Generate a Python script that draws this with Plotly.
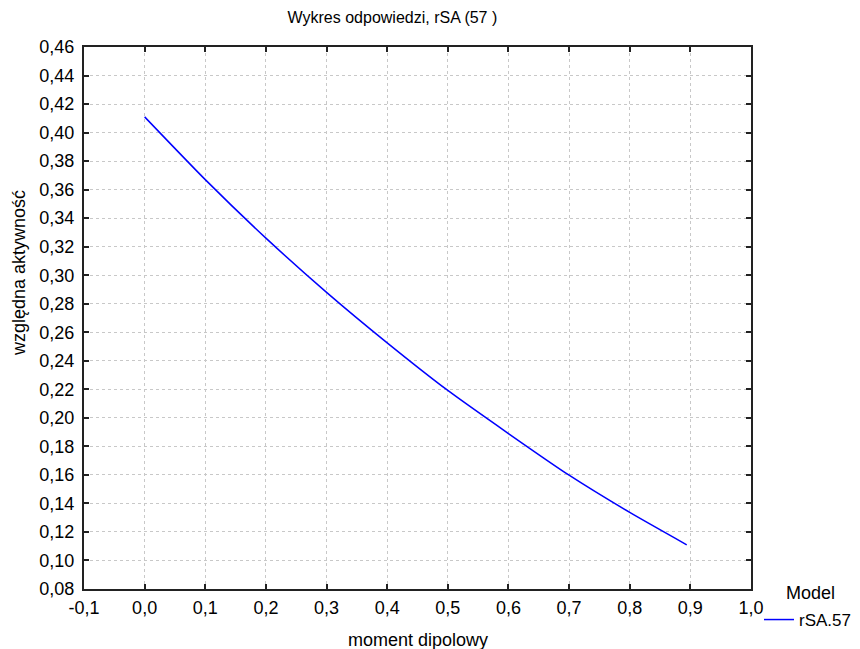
import plotly.graph_objects as go

# Data
moment = [0.0, 0.1, 0.2, 0.3, 0.4, 0.5, 0.6, 0.7, 0.8, 0.894]
aktywnosc = [0.411, 0.367, 0.326, 0.288, 0.2526, 0.2192, 0.189, 0.1598, 0.1337, 0.111]
series_name = "rSA.57"

x_ticks = [-0.1, 0.0, 0.1, 0.2, 0.3, 0.4, 0.5, 0.6, 0.7, 0.8, 0.9, 1.0]
x_ticktext = ["-0,1", "0,0", "0,1", "0,2", "0,3", "0,4", "0,5", "0,6", "0,7", "0,8", "0,9", "1,0"]
y_ticks = [0.08, 0.10, 0.12, 0.14, 0.16, 0.18, 0.20, 0.22, 0.24, 0.26,
           0.28, 0.30, 0.32, 0.34, 0.36, 0.38, 0.40, 0.42, 0.44, 0.46]
y_ticktext = ["0,08", "0,10", "0,12", "0,14", "0,16", "0,18", "0,20", "0,22", "0,24", "0,26",
              "0,28", "0,30", "0,32", "0,34", "0,36", "0,38", "0,40", "0,42", "0,44", "0,46"]

FONT = "Liberation Sans, Arial, sans-serif"

# page body has an 8px margin: work in figure coordinates = screen - 8
OFF = 8
W, H = 852, 641
L, T = 84 - OFF, 47 - OFF
R = W - (751 - OFF)
B = H - (589 - OFF)
pw = W - L - R
ph = H - T - B


def px_x(sx):
    return (sx - OFF - L) / pw


def px_y(sy):
    return (H - B - (sy - OFF)) / ph


fig = go.Figure()
fig.add_trace(go.Scatter(
    x=moment, y=aktywnosc, mode="lines", name=series_name,
    line=dict(color="#0000ff", width=1.5, shape="spline", smoothing=0.6),
))

axis_common = dict(
    showline=True, linecolor="#222222", linewidth=2, mirror="ticks",
    ticks="inside", ticklen=5, tickcolor="#222222", tickwidth=1.5,
    showgrid=True, gridcolor="#c8c8c8", griddash="dot", gridwidth=1,
    zeroline=False, tickfont=dict(size=18, color="#000000", family=FONT),
)

fig.update_layout(
    width=W, height=H,
    margin=dict(l=L, r=R, t=T, b=B, autoexpand=False),
    paper_bgcolor="white", plot_bgcolor="white",
    font=dict(family=FONT, color="#000000", size=18),
    title=dict(text="Wykres odpowiedzi, rSA (57 )", font=dict(size=16, family=FONT, color="#000000"),
               x=(402 - OFF) / W, xanchor="center", xref="paper", y=1 - (17 - OFF) / H, yanchor="middle"),
    xaxis=dict(range=[-0.1, 1.0], tickvals=x_ticks, ticktext=x_ticktext,
               ticklabelstandoff=1, **axis_common),
    yaxis=dict(range=[0.08, 0.46], tickvals=y_ticks, ticktext=y_ticktext,
               ticklabelstandoff=4, **axis_common),
    showlegend=True,
    legend=dict(
        x=px_x(759), xanchor="left", y=px_y(602), yanchor="top",
        bgcolor="rgba(0,0,0,0)", borderwidth=0, font=dict(size=17, family=FONT),
        tracegroupgap=0, itemwidth=30,
    ),
    annotations=[
        dict(text="względna aktywność", textangle=-90, showarrow=False,
             xref="paper", yref="paper", x=px_x(19), y=px_y(273),
             xanchor="center", yanchor="middle", font=dict(size=18, family=FONT, color="#000000")),
        dict(text="moment dipolowy", showarrow=False,
             xref="paper", yref="paper", x=px_x(418), y=px_y(640),
             xanchor="center", yanchor="middle", font=dict(size=18, family=FONT, color="#000000")),
        dict(text="Model", showarrow=False,
             xref="paper", yref="paper", x=px_x(811), y=px_y(593),
             xanchor="center", yanchor="middle", font=dict(size=18, family=FONT, color="#000000")),
    ],
)

fig.write_html("out.html")
